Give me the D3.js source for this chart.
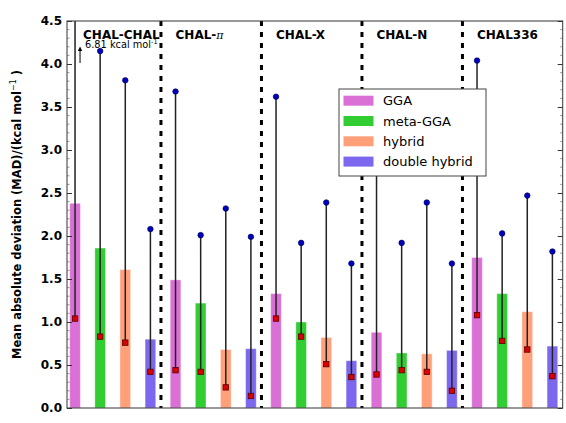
<!DOCTYPE html>
<html>
<head>
<meta charset="utf-8">
<script src="https://cdn.jsdelivr.net/npm/d3@7"></script>
<style>
  body { margin: 0; background: #fff; }
  svg { display: block; font-family: "DejaVu Sans", sans-serif; }
</style>
</head>
<body>
<svg id="chart" width="566" height="423"></svg>
<script>
const groups = ["CHAL-CHAL", "CHAL-π", "CHAL-X", "CHAL-N", "CHAL336"];
const methods = ["GGA", "meta-GGA", "hybrid", "double hybrid"];
const colors = ["#DA70D6", "#32CD32", "#FFA07A", "#7B68EE"];

// mean absolute deviation per group, one value per method
const madValues = [
  [2.38, 1.86, 1.61, 0.80],
  [1.49, 1.22, 0.68, 0.69],
  [1.33, 1.00, 0.82, 0.55],
  [0.88, 0.64, 0.63, 0.67],
  [1.75, 1.33, 1.12, 0.72]
];
// lowest MAD in each family (red squares)
const minValues = [
  [1.04, 0.83, 0.76, 0.42],
  [0.44, 0.42, 0.24, 0.14],
  [1.04, 0.83, 0.51, 0.36],
  [0.39, 0.44, 0.42, 0.20],
  [1.08, 0.78, 0.68, 0.37]
];
// highest MAD in each family (blue dots)
const maxValues = [
  [6.81, 4.15, 3.81, 2.08],
  [3.68, 2.01, 2.32, 1.99],
  [3.62, 1.92, 2.39, 1.68],
  [3.20, 1.92, 2.39, 1.68],
  [4.04, 2.03, 2.47, 1.82]
];
const yTicks = [0, 0.5, 1, 1.5, 2, 2.5, 3, 3.5, 4, 4.5];
const offChartNote = "6.81 kcal mol";

const svg = d3.select("#chart");
const M = { left: 67, right: 562.7, top: 21, bottom: 408 };

const x = d3.scaleLinear().domain([-0.32, 19.41]).range([M.left, M.right]);
const y = d3.scaleLinear().domain([0, 4.5]).range([M.bottom, M.top]);
const barW = x(0.425) - x(0);

const rows = [];
groups.forEach((g, gi) => {
  methods.forEach((m, mi) => {
    rows.push({
      i: gi * 4 + mi, mi,
      mad: madValues[gi][mi],
      lo: minValues[gi][mi],
      hi: maxValues[gi][mi]
    });
  });
});

svg.append("defs").append("clipPath").attr("id", "plot-clip")
  .append("rect").attr("x", M.left).attr("y", M.top)
  .attr("width", M.right - M.left).attr("height", M.bottom - M.top);

const plot = svg.append("g").attr("clip-path", "url(#plot-clip)");

plot.selectAll(".bar").data(rows).enter().append("rect")
  .attr("class", "bar")
  .attr("x", d => x(d.i) - barW / 2)
  .attr("y", d => y(d.mad))
  .attr("width", barW)
  .attr("height", d => y(0) - y(d.mad))
  .attr("fill", d => colors[d.mi])
  .attr("stroke", "#fff")
  .attr("stroke-opacity", 0.4)
  .attr("stroke-width", 1);

// group separators
plot.selectAll(".sep").data(d3.range(1, groups.length)).enter().append("line")
  .attr("x1", g => x(g * 4 - 0.58))
  .attr("x2", g => x(g * 4 - 0.58))
  .attr("y1", M.top)
  .attr("y2", M.bottom)
  .attr("stroke", "#000")
  .attr("stroke-width", 3)
  .attr("stroke-dasharray", "5,6");

plot.selectAll(".range").data(rows).enter().append("line")
  .attr("x1", d => x(d.i)).attr("x2", d => x(d.i))
  .attr("y1", d => y(d.lo)).attr("y2", d => y(d.hi))
  .attr("stroke", "#222")
  .attr("stroke-width", 1.5);

plot.selectAll(".lo").data(rows).enter().append("rect")
  .attr("x", d => x(d.i) - 2.7)
  .attr("y", d => y(d.lo) - 2.7)
  .attr("width", 5.4).attr("height", 5.4)
  .attr("fill", "#dd0000")
  .attr("stroke", "#550000")
  .attr("stroke-width", 0.8);

plot.selectAll(".hi").data(rows.filter(d => d.hi <= 4.5)).enter().append("circle")
  .attr("cx", d => x(d.i))
  .attr("cy", d => y(d.hi))
  .attr("r", 2.8)
  .attr("fill", "#0000bb")
  .attr("stroke", "#000055")
  .attr("stroke-width", 0.6);

// frame
svg.append("rect")
  .attr("x", M.left).attr("y", M.top)
  .attr("width", M.right - M.left).attr("height", M.bottom - M.top)
  .attr("fill", "none").attr("stroke", "#333").attr("stroke-width", 1);

// y axis, ticks pointing inward
const minor = d3.range(0, 4.501, 0.1).filter(v => Math.abs(v * 2 - Math.round(v * 2)) > 1e-6);
const yAxis = svg.append("g").attr("transform", `translate(${M.left},0)`)
  .call(d3.axisLeft(y).tickValues(yTicks).tickFormat(d3.format(".1f")).tickSize(-5).tickPadding(5));
yAxis.select(".domain").remove();
yAxis.selectAll("text").attr("font-size", 12).attr("font-weight", "bold").attr("fill", "#000")
  .attr("font-family", "DejaVu Sans");
yAxis.selectAll("line").attr("stroke", "#333");

const yAxisR = svg.append("g").attr("transform", `translate(${M.right},0)`)
  .call(d3.axisRight(y).tickValues(yTicks).tickFormat("").tickSize(-5));
yAxisR.select(".domain").remove();
yAxisR.selectAll("line").attr("stroke", "#333");

svg.selectAll(".minorL").data(minor).enter().append("line")
  .attr("x1", M.left).attr("x2", M.left + 2.5)
  .attr("y1", d => y(d)).attr("y2", d => y(d))
  .attr("stroke", "#555").attr("stroke-width", 0.6);
svg.selectAll(".minorR").data(minor).enter().append("line")
  .attr("x1", M.right).attr("x2", M.right - 2.5)
  .attr("y1", d => y(d)).attr("y2", d => y(d))
  .attr("stroke", "#555").attr("stroke-width", 0.6);

const ylab = svg.append("text")
  .attr("transform", `translate(21,${(M.top + M.bottom) / 2}) rotate(-90)`)
  .attr("text-anchor", "middle")
  .attr("font-size", 11.5)
  .attr("font-weight", "bold");
ylab.append("tspan").text("Mean absolute deviation (MAD)/(kcal mol");
ylab.append("tspan").attr("font-size", 8).attr("font-weight", "normal").attr("dy", -5).text("−1");
ylab.append("tspan").attr("dy", 5).text(" )");

// group titles
groups.forEach((g, gi) => {
  const t = svg.append("text")
    .attr("x", x(gi * 4) + (gi === 0 ? 8 : 0))
    .attr("y", 39)
    .attr("font-size", 12)
    .attr("font-weight", "bold");
  if (g.endsWith("π")) {
    t.append("tspan").text(g.slice(0, -1));
    t.append("tspan").attr("font-weight", "normal").attr("font-style", "italic")
      .attr("font-family", "DejaVu Serif").attr("font-size", 11).text("π");
  } else {
    t.text(g);
  }
});

// note for the value that runs off the top
const note = svg.append("text").attr("x", 85).attr("y", 47.5).attr("font-size", 9.8);
note.append("tspan").text(offChartNote);
note.append("tspan").attr("font-size", 6.5).attr("dy", -4).text("-1");

svg.append("line")
  .attr("x1", x(0) + 5).attr("x2", x(0) + 5)
  .attr("y1", 63).attr("y2", 49)
  .attr("stroke", "#000").attr("stroke-width", 1);
svg.append("path")
  .attr("d", `M${x(0) + 5},46.5 l-2.2,4.5 l4.4,0 z`)
  .attr("fill", "#000");

// legend
const legend = svg.append("g");
legend.append("rect")
  .attr("x", 339).attr("y", 89).attr("width", 147).attr("height", 87)
  .attr("fill", "#fff").attr("stroke", "#444").attr("stroke-width", 1);
methods.forEach((m, mi) => {
  const cy = 100.7 + mi * 20.3;
  legend.append("rect")
    .attr("x", 343.5).attr("y", cy - 5).attr("width", 30).attr("height", 10)
    .attr("fill", colors[mi]);
  legend.append("text")
    .attr("x", 383).attr("y", cy + 4.5)
    .attr("font-size", 13)
    .text(m);
});
</script>
</body>
</html>
